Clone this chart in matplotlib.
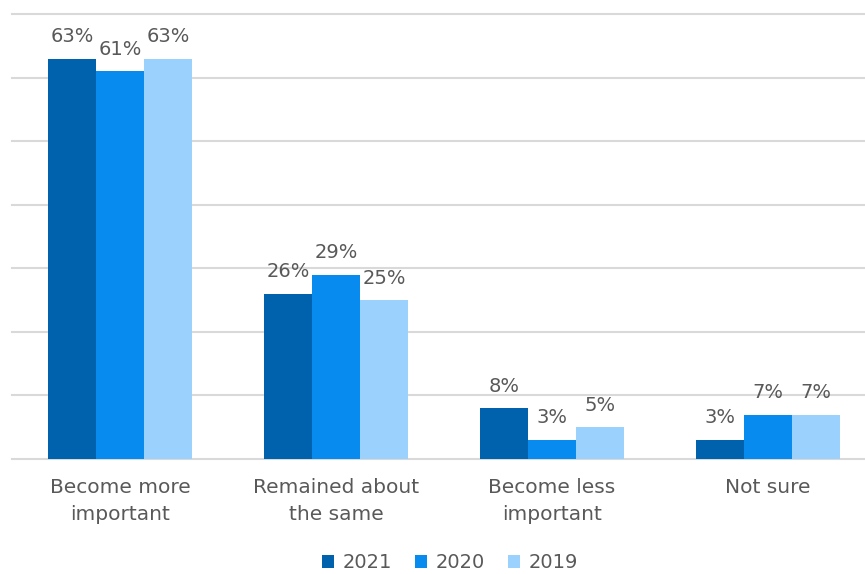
import matplotlib.pyplot as plt
import numpy as np

plt.rcParams['font.family'] = ['DejaVu Sans']

categories = ["Become more\nimportant", "Remained about\nthe same", "Become less\nimportant", "Not sure"]
years = ["2021", "2020", "2019"]
v2021 = [63, 26, 8, 3]
v2020 = [61, 29, 3, 7]
v2019 = [63, 25, 5, 7]
colors = ["#0062AC", "#078BEF", "#9BD1FD"]
txt = "#595959"

fig = plt.figure(figsize=(8.65, 5.74), dpi=100)
ax = fig.add_axes([12 / 865, 115 / 574, 1 - 12 / 865, 445 / 574])

x = np.arange(len(categories))
w = 0.222
for i, (vals, lab) in enumerate(zip([v2021, v2020, v2019], years)):
    bars = ax.bar(x + (i - 1) * w, vals, w, color=colors[i], label=lab, zorder=2)
    for b, v in zip(bars, vals):
        ax.annotate(f"{v}%", (b.get_x() + b.get_width() / 2, v), xytext=(0, 9),
                    textcoords="offset points", ha="center", va="bottom",
                    fontsize=14, color=txt)

ax.set_xlim(-0.5, 3.449)
ax.set_ylim(0, 70)
ax.set_yticks(np.arange(0, 71, 10))
ax.yaxis.grid(True, color="#d9d9d9", lw=1.5, zorder=0)
for gl in ax.get_ygridlines():
    gl.set_clip_on(False)
ax.set_yticklabels([])
ax.tick_params(axis="y", length=0)
ax.tick_params(axis="x", length=0, pad=14)
ax.set_xticks(x)
ax.set_xticklabels(categories, fontsize=14.5, color=txt, linespacing=1.5)
for s in ax.spines.values():
    s.set_visible(False)

ax.legend(loc="center", ncol=3, frameon=False,
          fontsize=14, handlelength=0.6, handleheight=0.6, handletextpad=0.45, columnspacing=1.2,
          labelcolor=txt, bbox_to_anchor=(450 / 865, 11 / 574), bbox_transform=fig.transFigure)

fig.savefig("out.png", dpi=100)
